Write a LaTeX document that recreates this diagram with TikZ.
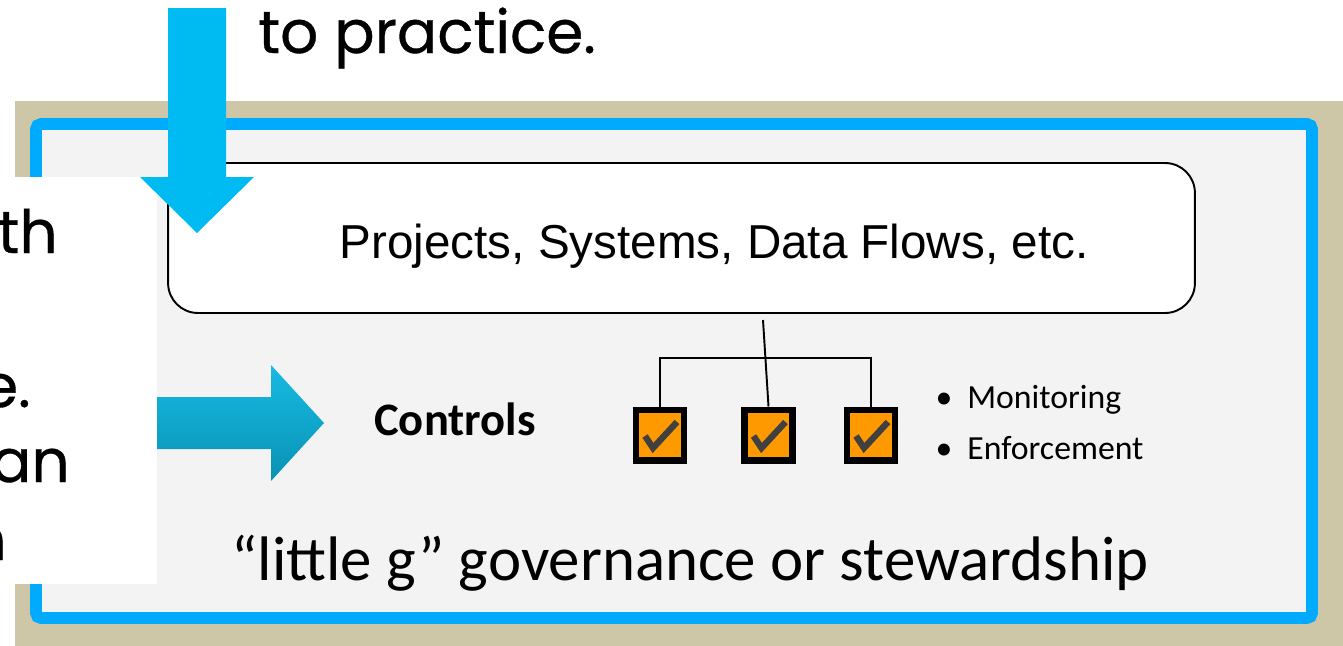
\documentclass[tikz,border=0pt]{standalone}
\usepackage{fontspec}
\setmainfont{Carlito}
\newfontfamily\arialf{Liberation Sans}
\newfontfamily\comicf{Poppins}[FakeBold=0.6]
\definecolor{tanbg}{RGB}{206,199,167}
\definecolor{panel}{RGB}{243,243,243}
\definecolor{frameblue}{RGB}{0,170,255}
\definecolor{downblue}{RGB}{0,187,242}
\definecolor{arrtop}{RGB}{24,186,228}
\definecolor{arrbot}{RGB}{8,146,180}
\definecolor{orangebox}{RGB}{255,153,0}
\definecolor{checkgray}{RGB}{64,64,64}
\begin{document}
\begin{tikzpicture}[x=0.02cm,y=-0.02cm,
  comictext/.style={inner sep=0pt, font=\comicf\fontsize{34}{40}\selectfont},
  conn/.style={draw=black, line width=1.1pt},
  chk/.style={draw=black, line width=3.7pt, fill=orangebox, minimum width=0.96cm,
    minimum height=1.01cm, inner sep=0pt,
    path picture={\draw[checkgray, line width=3.6pt, line join=miter]
      ([shift={(-15,1)}]path picture bounding box.center) --
      ([shift={(-7,13)}]path picture bounding box.center) --
      ([shift={(17,-13)}]path picture bounding box.center);}},
  projbox/.style={draw=black, line width=1.1pt, fill=white, rounded corners=17pt,
    minimum width=20.54cm, minimum height=3cm, inner sep=0pt}]
\useasboundingbox (0,0) rectangle (1343,646);
% background panels
\fill[tanbg] (15,101) rectangle (1343,646);
\draw[frameblue, line width=6.8pt, fill=panel, rounded corners=3pt] (36,124) rectangle (1312,618);
% projects box
\node[projbox] (proj) at (681.5,238) {};
\node[anchor=base, inner sep=0pt, font=\arialf\fontsize{27.1}{32}\selectfont] (projtxt) at (714,258) {Projects, Systems, Data Flows, etc.};
% white box on the left with clipped text
\fill[white] (0,177) rectangle (157,584);
\begin{scope}
\clip (0,177) rectangle (157,584);
\node[comictext, anchor=base east] (f1) at (58,253) {th};
\node[comictext, anchor=base east] (f2) at (31,407) {e.};
\node[comictext, anchor=base east] (f3) at (70,482) {an};
\node[comictext, anchor=base east] (f4) at (7,560) {n};
\end{scope}
% arrows
\shade[top color=arrtop, bottom color=arrbot] (157,397) -- (271,397) -- (271,365) -- (324,423) -- (271,481) -- (271,449) -- (157,449) -- cycle;
\fill[downblue] (168,8) -- (226,8) -- (226,177) -- (254,177) -- (197,233) -- (140,177) -- (168,177) -- cycle;
% top text
\node[comictext, anchor=base west] (tp) at (258,53) {to practice.};
% controls
\node[anchor=base west, inner sep=0pt, font=\bfseries\fontsize{26.5}{32}\selectfont] (ctrl) at (374,435) {Controls};
\node[chk] (cb1) at (660,435) {};
\node[chk] (cb2) at (768.5,435) {};
\node[chk] (cb3) at (871,435) {};
\coordinate (bar) at (768,358);
\coordinate (stem) at (763,320);
\draw[conn] (cb1.north) |- (bar) -| (cb3.north);
\draw[conn] (stem) -- (cb2.north);
% bullets
\node[anchor=base, inner sep=0pt, font=\fontsize{19.2}{23}\selectfont] (b1) at (944,408) {•};
\node[anchor=base, inner sep=0pt, font=\fontsize{19.2}{23}\selectfont] (b2) at (944,459) {•};
\node[anchor=base west, inner sep=0pt, font=\fontsize{19.2}{23}\selectfont] (mon) at (967,408) {Monitoring};
\node[anchor=base west, inner sep=0pt, font=\fontsize{19.2}{23}\selectfont] (enf) at (967,459) {Enforcement};
% bottom caption
\node[anchor=base, inner sep=0pt, font=\fontsize{35.8}{42}\selectfont] (lg) at (690,580) {“little g” governance or stewardship};
\end{tikzpicture}
\end{document}
